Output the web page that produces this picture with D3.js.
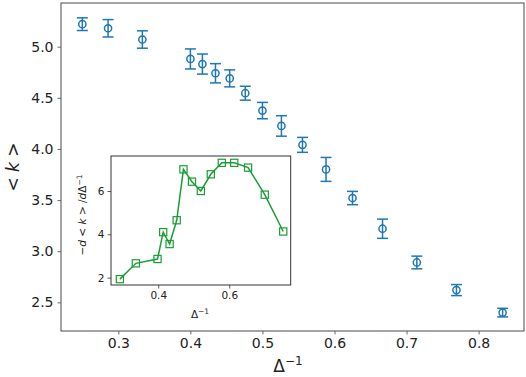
<!DOCTYPE html>
<html lang="en">
<head>
    <meta charset="UTF-8">
    <title>k vs inverse Delta</title>
    <script src="https://d3js.org/d3.v7.min.js"></script>
    <style>
        body { margin: 0; background: #fff; }
        text { font-family: "DejaVu Sans", sans-serif; fill: #222; }
    </style>
</head>
<body>
    <svg id="chart"></svg>
    <script>
        const width = 526;
        const height = 377;

        // main series: <k> vs 1/Delta, with error bars
        const invDelta = [1/4, 1/3.5, 1/3, 1/2.5, 1/2.4, 1/2.3, 1/2.2, 1/2.1, 1/2, 1/1.9, 1/1.8, 1/1.7, 1/1.6, 1/1.5, 1/1.4, 1/1.3, 1/1.2];
        const kMean = [5.22, 5.18, 5.07, 4.88, 4.83, 4.74, 4.69, 4.545, 4.375, 4.225, 4.04, 3.80, 3.52, 3.22, 2.89, 2.62, 2.40];
        const kErr = [0.062, 0.085, 0.085, 0.098, 0.098, 0.094, 0.083, 0.068, 0.08, 0.10, 0.073, 0.117, 0.065, 0.094, 0.062, 0.054, 0.042];
        const xTicks = [0.3, 0.4, 0.5, 0.6, 0.7, 0.8];
        const yTicks = [2.5, 3.0, 3.5, 4.0, 4.5, 5.0];

        // inset: -d<k>/dDelta^-1
        const insetX = [0.292, 0.337, 0.398, 0.414, 0.432, 0.452, 0.471, 0.495, 0.52, 0.548, 0.579, 0.614, 0.653, 0.70, 0.752];
        const insetY = [1.93, 2.66, 2.86, 4.1, 3.55, 4.65, 7.0, 6.43, 6.0, 6.77, 7.3, 7.3, 7.08, 5.83, 4.13];
        const insetXTicks = [0.4, 0.6];
        const insetYTicks = [2, 4, 6];

        const blue = '#1f77b4';
        const green = '#1a9e35';

        const svg = d3.select('#chart')
            .attr('width', width)
            .attr('height', height);

        const m = { left: 61, right: 524, top: 3, bottom: 331 };

        const x = d3.scaleLinear().domain([0.2204, 0.863]).range([m.left, m.right]);
        const y = d3.scaleLinear().domain([2.22, 5.427]).range([m.bottom, m.top]);

        const xAxis = svg.append('g')
            .attr('transform', `translate(0,${m.bottom})`)
            .call(d3.axisBottom(x).tickValues(xTicks).tickFormat(d3.format('.1f')).tickSizeOuter(0).tickSize(3.5).tickPadding(4));
        const yAxis = svg.append('g')
            .attr('transform', `translate(${m.left},0)`)
            .call(d3.axisLeft(y).tickValues(yTicks).tickFormat(d3.format('.1f')).tickSizeOuter(0).tickSize(3.5).tickPadding(4));

        [xAxis, yAxis].forEach(a => {
            a.select('.domain').remove();
            a.selectAll('.tick line').attr('stroke', '#444').attr('stroke-width', 0.8);
            a.selectAll('.tick text').attr('font-size', 14).attr('fill', '#222');
        });

        svg.append('rect')
            .attr('x', m.left).attr('y', m.top)
            .attr('width', m.right - m.left).attr('height', m.bottom - m.top)
            .attr('fill', 'none').attr('stroke', '#666').attr('stroke-width', 1.2);

        const pts = invDelta.map((d, i) => ({ x: d, y: kMean[i], e: kErr[i] }));

        const eb = svg.append('g').attr('stroke', blue).attr('stroke-width', 1.5).attr('fill', 'none');
        eb.selectAll('line.v').data(pts).enter().append('line')
            .attr('x1', d => x(d.x)).attr('x2', d => x(d.x))
            .attr('y1', d => y(d.y - d.e)).attr('y2', d => y(d.y + d.e));
        eb.selectAll('line.top').data(pts).enter().append('line')
            .attr('x1', d => x(d.x) - 5.5).attr('x2', d => x(d.x) + 5.5)
            .attr('y1', d => y(d.y + d.e)).attr('y2', d => y(d.y + d.e));
        eb.selectAll('line.bot').data(pts).enter().append('line')
            .attr('x1', d => x(d.x) - 5.5).attr('x2', d => x(d.x) + 5.5)
            .attr('y1', d => y(d.y - d.e)).attr('y2', d => y(d.y - d.e));
        eb.selectAll('circle').data(pts).enter().append('circle')
            .attr('cx', d => x(d.x)).attr('cy', d => y(d.y)).attr('r', 3.6);

        // axis labels
        const xl = svg.append('text')
            .attr('x', 288).attr('y', 372)
            .attr('text-anchor', 'middle').attr('font-size', 17);
        xl.append('tspan').text('Δ');
        xl.append('tspan').attr('dy', -7).attr('font-size', 12).text('−1');

        const yl = svg.append('text')
            .attr('transform', `translate(19,${(m.top + m.bottom) / 2}) rotate(-90)`)
            .attr('text-anchor', 'middle').attr('font-size', 17);
        yl.append('tspan').text('< ');
        yl.append('tspan').attr('font-style', 'italic').text('k');
        yl.append('tspan').text(' >');

        // inset
        const im = { left: 111, right: 290.7, top: 156, bottom: 285 };
        const ix = d3.scaleLinear().domain([0.267, 0.773]).range([im.left, im.right]);
        const iy = d3.scaleLinear().domain([1.66, 7.615]).range([im.bottom, im.top]);

        svg.append('rect')
            .attr('x', im.left).attr('y', im.top)
            .attr('width', im.right - im.left).attr('height', im.bottom - im.top)
            .attr('fill', '#fff');

        const ixAxis = svg.append('g')
            .attr('transform', `translate(0,${im.bottom})`)
            .call(d3.axisBottom(ix).tickValues(insetXTicks).tickFormat(d3.format('.1f')).tickSizeOuter(0).tickSize(3.5).tickPadding(3));
        const iyAxis = svg.append('g')
            .attr('transform', `translate(${im.left},0)`)
            .call(d3.axisLeft(iy).tickValues(insetYTicks).tickFormat(d3.format('d')).tickSizeOuter(0).tickSize(3.5).tickPadding(3));
        [ixAxis, iyAxis].forEach(a => {
            a.select('.domain').remove();
            a.selectAll('.tick line').attr('stroke', '#333').attr('stroke-width', 0.8);
            a.selectAll('.tick text').attr('font-size', 10.5).attr('fill', '#222');
        });

        svg.append('rect')
            .attr('x', im.left).attr('y', im.top)
            .attr('width', im.right - im.left).attr('height', im.bottom - im.top)
            .attr('fill', 'none').attr('stroke', '#333').attr('stroke-width', 1);

        const ipts = insetX.map((d, i) => ({ x: d, y: insetY[i] }));
        svg.append('path')
            .datum(ipts)
            .attr('fill', 'none').attr('stroke', green).attr('stroke-width', 1.5)
            .attr('d', d3.line().x(d => ix(d.x)).y(d => iy(d.y)));
        svg.append('g').selectAll('rect').data(ipts).enter().append('rect')
            .attr('x', d => ix(d.x) - 3.6).attr('y', d => iy(d.y) - 3.6)
            .attr('width', 7.2).attr('height', 7.2)
            .attr('fill', 'none').attr('stroke', green).attr('stroke-width', 1.2);

        const ixl = svg.append('text')
            .attr('x', 200).attr('y', 318)
            .attr('text-anchor', 'middle').attr('font-size', 10.5);
        ixl.append('tspan').text('Δ');
        ixl.append('tspan').attr('dy', -4).attr('font-size', 7.5).text('−1');

        const iyl = svg.append('text')
            .attr('transform', `translate(86,215) rotate(-90)`)
            .attr('text-anchor', 'middle').attr('font-size', 10.5);
        iyl.append('tspan').text('−');
        iyl.append('tspan').attr('font-style', 'italic').text('d');
        iyl.append('tspan').text(' < ');
        iyl.append('tspan').attr('font-style', 'italic').text('k');
        iyl.append('tspan').text(' > /');
        iyl.append('tspan').attr('font-style', 'italic').text('d');
        iyl.append('tspan').text('Δ');
        iyl.append('tspan').attr('dy', -4).attr('font-size', 7.5).text('−1');
    </script>
</body>
</html>
